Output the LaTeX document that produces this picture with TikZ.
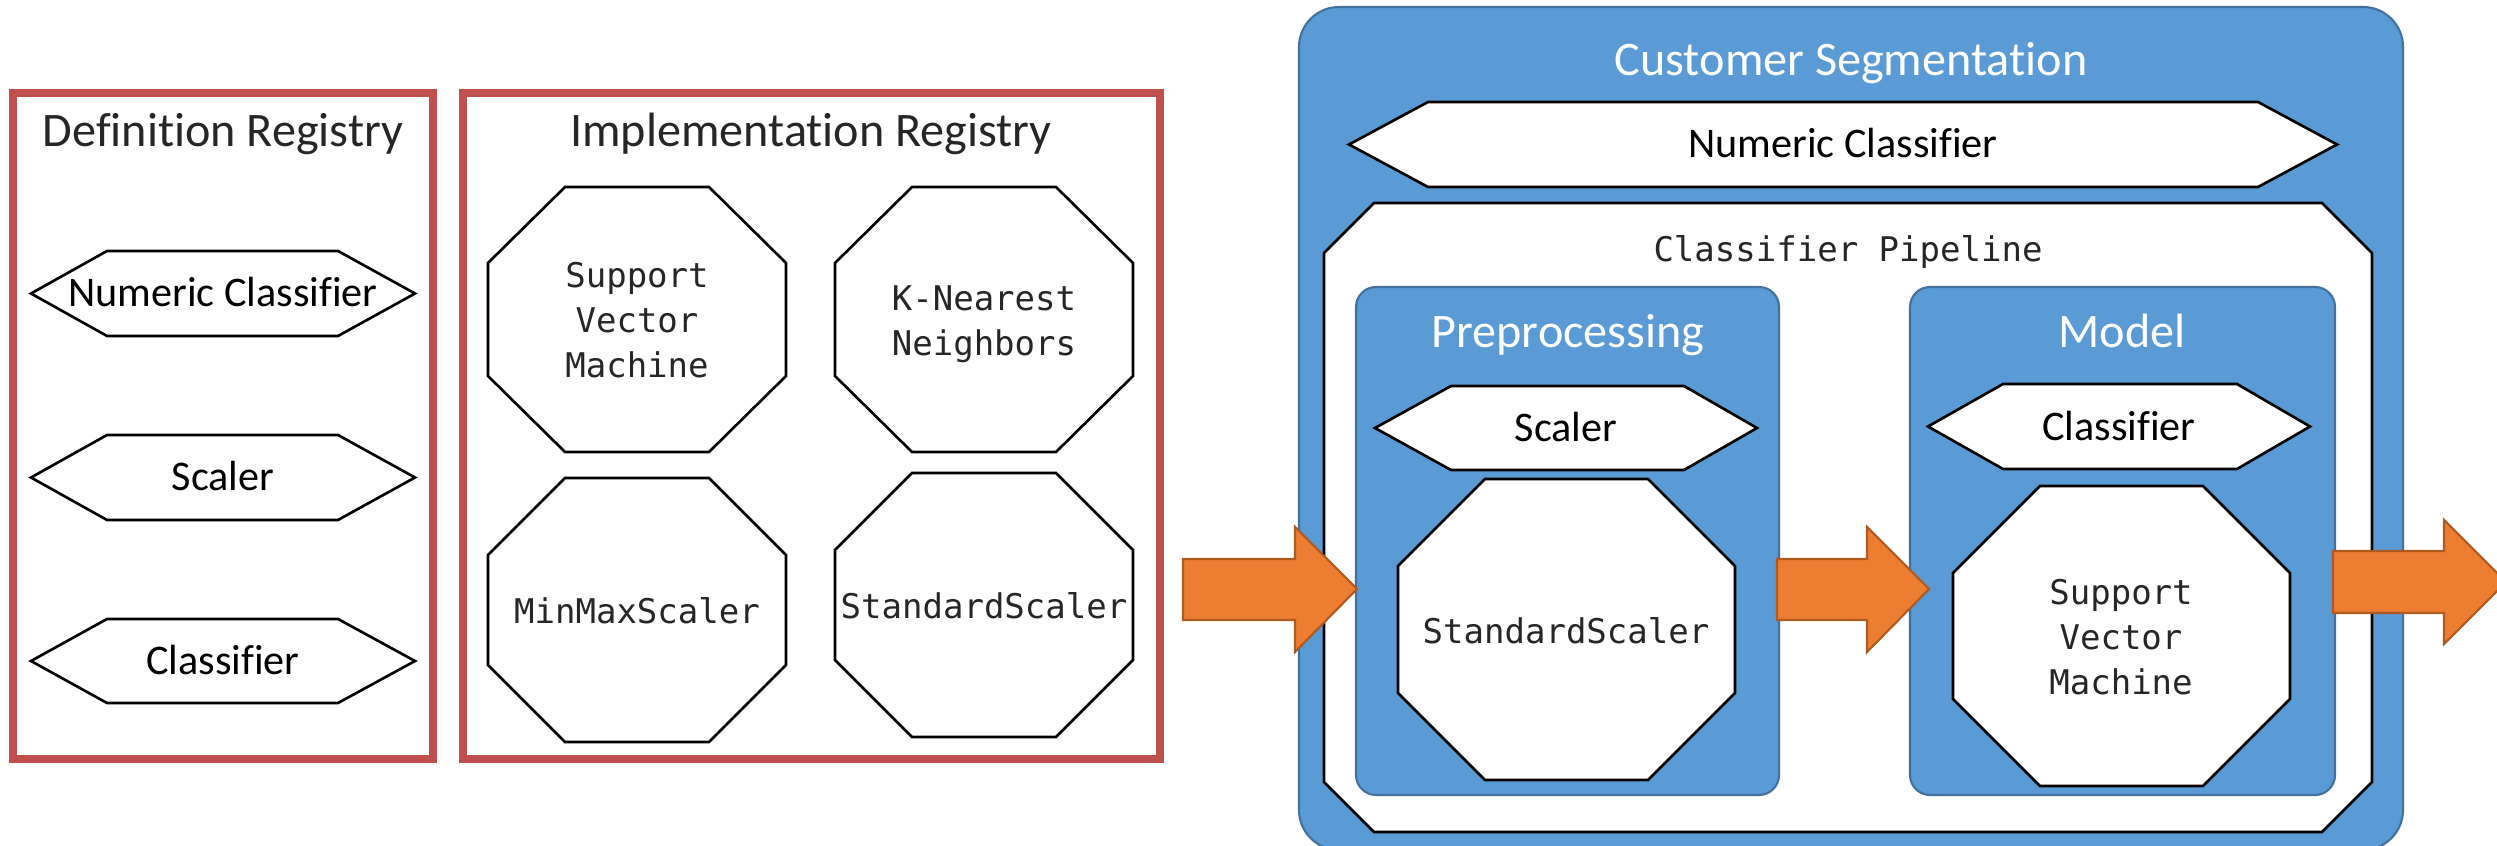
\documentclass[tikz,border=0pt]{standalone}
\usepackage{fontspec}
\setmainfont{Carlito}[Ligatures=NoCommon]
\newfontfamily\codefont{DejaVu Sans Mono}
\usepackage{tikz}

\definecolor{regred}{HTML}{C0504D}
\definecolor{boxblue}{HTML}{5B9BD5}
\definecolor{boxblueline}{HTML}{41719C}
\definecolor{floworange}{HTML}{ED7D31}
\definecolor{floworangeline}{HTML}{AE5A21}
\definecolor{textgray}{HTML}{262626}

\begin{document}
\begin{tikzpicture}[x=0.01cm, y=-0.01cm,
  registry/.style={draw=regred, line width=2.1pt},
  group/.style={fill=boxblue, draw=boxblueline, line width=0.6pt},
  outline/.style={fill=white, draw=black, line width=0.75pt},
  flow/.style={fill=floworange, draw=floworangeline, line width=0.6pt},
  regtitle/.style={anchor=base, text=textgray, font=\fontsize{13.7pt}{16pt}\selectfont},
  grouptitle/.style={anchor=base, text=white, font=\fontsize{13.7pt}{16pt}\selectfont},
  hextext/.style={anchor=base, font=\fontsize{12pt}{14pt}\selectfont},
  codetext/.style={text=textgray, align=center, font=\codefont\fontsize{9.67pt}{12.8pt}\selectfont}]

\useasboundingbox (0,0) rectangle (2497,846);
\clip (0,0) rectangle (2497,846);

\draw [registry] (13,93) rectangle (433,759);
\node [regtitle] (deftitle) at (223,147) {Definition Registry};

\draw [outline] (31,293.5) -- (107,251) -- (338,251) -- (415,293.5) -- (338,336) -- (107,336) -- cycle;
\node [hextext] (defnumeric) at (223,307) {Numeric Classifier};

\draw [outline] (31,477.5) -- (107,435) -- (338,435) -- (415,477.5) -- (338,520) -- (107,520) -- cycle;
\node [hextext] (defscaler) at (223,491) {Scaler};

\draw [outline] (31,661) -- (107,619) -- (338,619) -- (415,661) -- (338,703) -- (107,703) -- cycle;
\node [hextext] (defclassifier) at (223,674.5) {Classifier};

\draw [registry] (463,93) rectangle (1160,759);
\node [regtitle] (impltitle) at (811,147) {Implementation Registry};

\draw [outline] (565,187) -- (709,187) -- (786,263) -- (786,376) -- (709,452) -- (565,452) -- (488,376) -- (488,263) -- cycle;
\node [codetext] (implsvm) at (637,320) {Support\\Vector\\Machine};

\draw [outline] (912,187) -- (1056,187) -- (1133,263) -- (1133,376) -- (1056,452) -- (912,452) -- (835,376) -- (835,263) -- cycle;
\node [codetext] (implknn) at (984,324) {K-Nearest\\Neighbors};

\draw [outline] (565,478) -- (709,478) -- (786,555) -- (786,665) -- (709,742) -- (565,742) -- (488,665) -- (488,555) -- cycle;
\node [codetext, anchor=base] (implminmax) at (637,623) {MinMaxScaler};

\draw [outline] (912,473) -- (1056,473) -- (1133,550) -- (1133,660) -- (1056,737) -- (912,737) -- (835,660) -- (835,550) -- cycle;
\node [codetext, anchor=base] (implstandard) at (984,618) {StandardScaler};

\draw [group, rounded corners=0.4cm] (1299,7) rectangle (2403,850);
\node [grouptitle] (segtitle) at (1851,75.5) {Customer Segmentation};

\draw [outline] (1349,144.5) -- (1428,102) -- (2258,102) -- (2337,144.5) -- (2258,187) -- (1428,187) -- cycle;
\node [hextext] (segnumeric) at (1843,158) {Numeric Classifier};

\draw [outline] (1374,203) -- (2322,203) -- (2372,253) -- (2372,782) -- (2322,832) -- (1374,832) -- (1324,782) -- (1324,253) -- cycle;
\node [codetext, anchor=base] (pipetitle) at (1848,262) {Classifier Pipeline};

\draw [group, rounded corners=0.2cm] (1356,287) rectangle (1779,795);
\node [grouptitle] (pretitle) at (1568,348) {Preprocessing};

\draw [outline] (1375,428) -- (1451,386) -- (1684,386) -- (1757,428) -- (1684,470) -- (1451,470) -- cycle;
\node [hextext] (prescaler) at (1566,442) {Scaler};

\draw [outline] (1485,479) -- (1648,479) -- (1735,566) -- (1735,693) -- (1648,780) -- (1485,780) -- (1398,693) -- (1398,566) -- cycle;
\node [codetext, anchor=base] (prestandard) at (1566,643) {StandardScaler};

\draw [group, rounded corners=0.2cm] (1910,287) rectangle (2335,795);
\node [grouptitle] (modeltitle) at (2122,348) {Model};

\draw [outline] (1928,426.5) -- (2003,384) -- (2237,384) -- (2310,426.5) -- (2237,469) -- (2003,469) -- cycle;
\node [hextext] (modelclassifier) at (2119,441) {Classifier};

\draw [outline] (2040,486) -- (2203,486) -- (2290,573) -- (2290,699) -- (2203,786) -- (2040,786) -- (1953,699) -- (1953,573) -- cycle;
\node [codetext] (modelsvm) at (2121,637) {Support\\Vector\\Machine};

\draw [flow] (1183,559) -- (1295,559) -- (1295,527) -- (1357,589) -- (1295,652) -- (1295,620) -- (1183,620) -- cycle;
\draw [flow] (1777,559) -- (1867,559) -- (1867,527) -- (1929,589) -- (1867,652) -- (1867,620) -- (1777,620) -- cycle;
\draw [flow] (2333,551) -- (2444,551) -- (2444,520) -- (2506,582) -- (2444,644) -- (2444,613) -- (2333,613) -- cycle;

\end{tikzpicture}
\end{document}
